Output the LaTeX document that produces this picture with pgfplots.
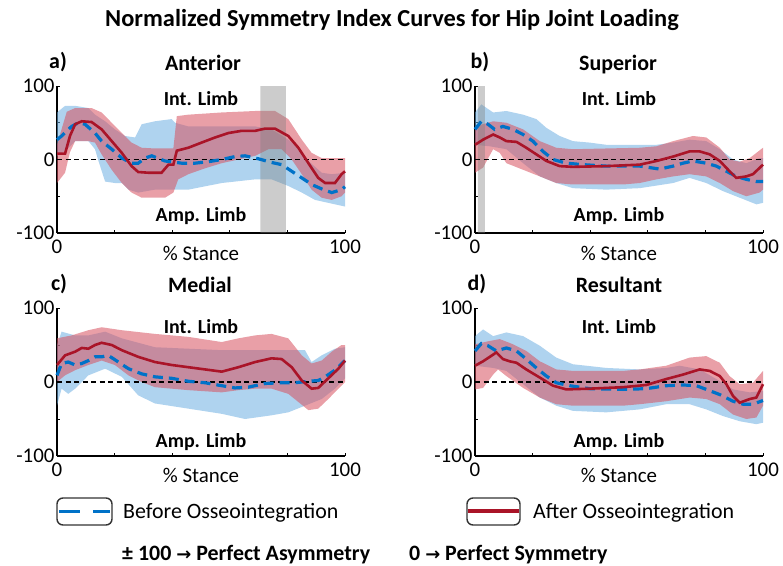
\documentclass[border=0pt]{standalone}
\usepackage{pgfplots}
\pgfplotsset{compat=1.18}
\usepgfplotslibrary{fillbetween}
\usepackage{fontspec}
\setmainfont{Carlito}
\newfontfamily\dejavu{DejaVu Sans}
\definecolor{bfill}{RGB}{110,175,225}
\definecolor{rfill}{RGB}{215,80,95}
\definecolor{rline}{RGB}{170,20,40}
\definecolor{bline}{RGB}{0,114,200}
\newcommand\fs[1]{\fontsize{#1}{#1}\selectfont}
\newcommand{\band}[4]{%
  \addplot[draw=none,name path=#1lo] coordinates {#3};
  \addplot[draw=none,name path=#1hi] coordinates {#4};
  \addplot[fill=#2, fill opacity=0.55, draw=none] fill between[of=#1lo and #1hi];
}
\pgfplotsset{panel/.style={
  scale only axis, width=288bp, anchor=south west, clip=false,
  xmin=0, xmax=100, ymin=-100, ymax=100,
  axis x line*=bottom, axis y line*=left,
  axis line style={black, line width=1.3bp},
  xtick={0,20,40,60,80,100}, xticklabels={0,,,,,100},
  ytick={-100,-50,0,50,100}, yticklabels={-100,,0,,100},
  tick align=inside, major tick length=3bp,
  tick style={black, line width=1bp},
  ticklabel style={font=\fs{21}},
  xticklabel style={yshift=-3bp},
  yticklabel style={xshift=1bp},
},
zeroline/.style={black, line width=1.3bp, dash pattern=on 5bp off 3.5bp},
bmean/.style={bline, line width=3.2bp, dash pattern=on 10bp off 6bp},
rmean/.style={rline, line width=2.6bp},
greybar/.style={fill=gray, fill opacity=0.4, draw=none},
}
\begin{document}
\begin{tikzpicture}
\path (0,0) rectangle (783bp,-566bp);
\node[font=\fs{24.5}\bfseries, anchor=base] at (392bp,-26bp) {Normalized Symmetry Index Curves for Hip Joint Loading};

% ---------------- a) Anterior
\begin{axis}[panel, height=147bp, at={(57bp,-233bp)}]
\band{aB}{bfill}{(0,5)(3,12)(6.3,25)(10.9,25)(13.2,14)(14.4,-2)(16.7,-30)(20.1,-32)(22.5,-32)(24.8,-41)(28.2,-45)(34,-41)(40,-41)(45.6,-41)(57.2,-32)(68.8,-27)(74.5,-27)(80.3,-36)(85,-45)(89.6,-55)(94.2,-59)(100,-64)}{(0,64)(2.8,73)(6.3,73)(10.9,70)(13.2,61)(16.7,52)(20.1,41)(23.6,32)(27.1,30)(29.4,48)(31.7,50)(34,52)(39.8,55)(41,50)(45.6,45)(57.2,45)(68.8,45)(74.5,41)(80.3,27)(83.8,16)(87.3,-2)(91.9,-18)(95.4,-20)(100,-18)}
\band{aR}{rfill}{(0,-32)(2.8,-18)(4.5,10)(6.3,25)(10.9,25)(13.2,23)(15.5,7)(19,-14)(22.5,-32)(25.9,-45)(29.4,-52)(37.5,-52)(40.4,-45)(42.1,-27)(45.6,-20)(51.4,-12)(57.2,-5)(63,0)(68.8,5)(73.4,14)(78,14)(81.5,0)(85,-20)(88.4,-41)(91.9,-52)(95.4,-55)(98.8,-50)(100,-45)}{(0,20)(1.5,40)(3.4,65)(6.3,70)(12,70)(15.5,64)(19,50)(22.5,36)(25.9,23)(29.4,16)(34,15)(40.4,15)(41.6,59)(45.6,61)(57.2,64)(68.8,66)(75.7,66)(80.3,55)(85,27)(88.4,9)(91.9,2)(100,2)}
\addplot[greybar] coordinates {(70.6,-100)(70.6,100)(79.5,100)(79.5,-100)(70.6,-100)};
\addplot[zeroline] coordinates {(0,0)(100,0)};
\addplot[bmean] coordinates {(0,27)(1.6,32)(3.4,39)(5.1,45)(7.4,50)(9.7,48)(13.2,36)(15.5,25)(19,14)(22.5,2)(25.9,-5)(28.2,-5)(30.6,2)(32.9,5)(37.5,-2)(43.3,-5)(47.9,-5)(52.5,-3)(57.2,0)(61.8,4)(65.3,5)(69.9,1)(74.5,-4)(78,-7)(81.5,-16)(85,-25)(88.4,-34)(91.9,-40)(95.4,-45)(98.8,-41)(100,-37)};
\addplot[rmean] coordinates {(0,8)(2.8,8)(4.5,32)(6.3,48)(8.6,52)(12,51)(15.5,41)(19,25)(22.5,9)(25.9,-9)(28.2,-17)(31.7,-18)(36.3,-18)(38.7,-7)(40.4,-7)(41.6,12)(45.6,16)(50.2,23)(54.9,30)(59.5,36)(64.1,39)(68.8,39)(72.2,42)(75.7,42)(80.3,32)(83.8,16)(87.3,-5)(90.7,-25)(93.1,-32)(96.5,-32)(98.8,-20)(100,-16)};
\node[font=\fs{20}\bfseries, anchor=base] at (axis cs:50,74) {Int. Limb};
\node[font=\fs{20}\bfseries, anchor=base] at (axis cs:50,-85) {Amp. Limb};
\node[font=\fs{21}, anchor=base, yshift=-27bp] at (axis cs:50,-100) {\% Stance};
\end{axis}

% ---------------- b) Superior
\begin{axis}[panel, height=147bp, at={(475bp,-233bp)}]
\band{bB}{bfill}{(0,20)(5.1,18)(10.9,14)(16.7,-5)(22.5,-23)(28.2,-32)(34,-39)(45.6,-41)(57.2,-39)(68.8,-32)(74.5,-25)(80.3,-32)(86.1,-43)(91.9,-52)(97.7,-61)(100,-59)}{(0,64)(2.2,75)(6.3,64)(10.9,66)(16.7,61)(21.3,55)(24.8,43)(29.4,32)(34,25)(39.8,23)(45.6,20)(63,20)(68.8,23)(74.5,27)(80.3,25)(85,14)(89.6,0)(94.2,-5)(98.8,2)(100,2)}
\band{bR}{rfill}{(0,-18)(2.8,-11)(6.3,14)(8.6,9)(10.9,-5)(16.7,-14)(22.5,-23)(28.2,-32)(34,-34)(51.4,-34)(57.2,-32)(63,-27)(68.8,-23)(74.5,-20)(80.3,-23)(85,-32)(89.6,-43)(94.2,-50)(98.8,-45)(100,-41)}{(0,45)(6.3,52)(10.9,50)(16.7,41)(22.5,25)(28.2,16)(34,14)(57.2,16)(63,18)(68.8,25)(75.7,32)(80.3,30)(85,16)(88.4,0)(91.9,-3)(95.4,2)(100,16)}
\addplot[greybar] coordinates {(1,-100)(1,100)(3.4,100)(3.4,-100)(1,-100)};
\addplot[zeroline] coordinates {(0,0)(100,0)};
\addplot[bmean] coordinates {(0,41)(2.2,52)(4.5,48)(6.8,41)(9.7,45)(13.2,41)(16.7,34)(20.1,25)(23.6,11)(27.1,0)(31.7,-5)(37.5,-7)(45.6,-9)(57.2,-9)(64.1,-13)(68.8,-9)(72.2,-5)(75.7,-2)(80.3,-5)(83.8,-9)(87.3,-16)(90.7,-23)(94.2,-27)(97.7,-30)(100,-30)};
\addplot[rmean] coordinates {(0,20)(2.8,27)(6.3,34)(8.6,30)(10.9,25)(14.4,24)(17.8,16)(21.3,7)(24.8,-2)(29.4,-9)(34,-10)(45.6,-9)(57.2,-7)(63,-2)(68.8,4)(74.5,11)(78,11)(81.5,7)(85,-2)(88.4,-16)(90.7,-25)(94.2,-23)(96.5,-20)(100,-7)};
\node[font=\fs{20}\bfseries, anchor=base] at (axis cs:50,74) {Int. Limb};
\node[font=\fs{20}\bfseries, anchor=base] at (axis cs:50,-85) {Amp. Limb};
\node[font=\fs{21}, anchor=base, yshift=-27bp] at (axis cs:50,-100) {\% Stance};
\end{axis}

% ---------------- c) Medial
\begin{axis}[panel, height=148bp, at={(57bp,-456bp)}]
\band{cB}{bfill}{(0,-32)(1.6,-9)(3.9,-16)(6.3,-9)(10.9,9)(16.7,18)(22.5,7)(28.2,-18)(34,-29)(45.6,-36)(57.2,-43)(65.3,-50)(74.5,-45)(80.3,-41)(86.1,-32)(91.9,-23)(96.5,-9)(100,5)}{(0,50)(1.6,68)(6.3,63)(10.9,63)(16.7,68)(22.5,59)(34,47)(45.6,45)(57.2,43)(80.3,43)(86.1,43)(88.4,27)(91.9,36)(96.5,45)(100,47)}
\band{cR}{rfill}{(0,0)(2.8,9)(6.3,16)(10.9,23)(15.5,29)(20.1,23)(24.8,9)(29.4,0)(34,-7)(45.6,-11)(57.2,-14)(63,-11)(68.8,-9)(74.5,-9)(80.3,-16)(83.8,-27)(87.3,-38)(90.7,-36)(94.2,-23)(97.7,-9)(100,0)}{(0,59)(5.1,63)(10.9,70)(15.5,74)(22.5,70)(34,65)(45.6,61)(57.2,54)(63,59)(68.8,63)(74.5,65)(80.3,59)(85,36)(88.4,25)(91.9,29)(95.4,41)(98.8,50)(100,50)}
\addplot[zeroline] coordinates {(0,0)(100,0)};
\addplot[bmean] coordinates {(0,9)(1.6,25)(3.9,27)(6.3,23)(8.6,25)(10.9,29)(13.2,34)(15.5,34)(17.8,36)(21.3,27)(24.8,18)(29.4,11)(34,7)(39.8,5)(45.6,1)(51.4,-1)(57.2,-5)(61.8,-8)(66.4,-7)(72.2,-2)(78,-1)(82.6,-1)(87.3,1)(90.7,2)(93.1,7)(96.5,16)(100,29)};
\addplot[rmean] coordinates {(0,23)(2.8,36)(6.3,41)(8.6,46)(10.9,45)(13.2,50)(15.5,53)(19,50)(22.5,43)(28.2,34)(34,27)(39.8,23)(45.6,20)(51.4,17)(57.2,14)(63,20)(68.8,27)(74.5,32)(78,31)(81.5,20)(85,2)(88.4,-9)(90.7,-8)(94.2,5)(97.7,18)(100,29)};
\node[font=\fs{20}\bfseries, anchor=base] at (axis cs:50,65) {Int. Limb};
\node[font=\fs{20}\bfseries, anchor=base] at (axis cs:50,-88) {Amp. Limb};
\node[font=\fs{21}, anchor=base, yshift=-26bp] at (axis cs:50,-100) {\% Stance};
\end{axis}

% ---------------- d) Resultant
\begin{axis}[panel, height=148bp, at={(475bp,-456bp)}]
\band{dB}{bfill}{(0,22)(6.3,19)(10.9,15)(16.7,-3)(22.5,-21)(28.2,-32)(34,-39)(45.6,-41)(57.2,-37)(66.4,-30)(74.5,-30)(80.3,-37)(86.1,-46)(91.9,-53)(97.7,-57)(100,-55)}{(0,62)(2.8,71)(6.3,62)(10.9,67)(16.7,62)(22.5,49)(28.2,33)(34,24)(45.6,19)(57.2,17)(66.4,19)(71.1,22)(78,17)(83.8,4)(89.6,-10)(95.4,-14)(100,-12)}
\band{dR}{rfill}{(0,-10)(2.8,-8)(6.3,10)(8,17)(10.9,8)(16.7,-8)(22.5,-21)(28.2,-30)(34,-32)(51.4,-32)(57.2,-30)(66.4,-26)(74.5,-21)(80.3,-23)(85,-30)(89.6,-44)(94.2,-50)(97.7,-48)(100,-32)}{(0,51)(4.5,55)(8.6,58)(13.2,51)(17.8,42)(22.5,28)(28.2,17)(34,15)(51.4,15)(57.2,17)(66.4,22)(74.5,33)(80.3,35)(85,26)(88.4,8)(91.9,-3)(96.5,-1)(100,15)}
\addplot[zeroline] coordinates {(0,0)(100,0)};
\addplot[bmean] coordinates {(0,42)(2.2,52)(4.5,49)(7.4,42)(10.9,46)(14.4,42)(17.8,31)(21.3,19)(24.8,8)(28.2,-1)(32.9,-5)(39.8,-9)(51.4,-10)(59.5,-9)(66.4,-5)(72.2,-4)(76.9,-5)(80.3,-10)(85,-17)(89.6,-26)(93.1,-30)(96.5,-30)(100,-25)};
\addplot[rmean] coordinates {(0,22)(2.8,28)(6.3,37)(7.4,40)(9.7,31)(12,28)(14.4,26)(17.8,17)(22.5,6)(27.1,-5)(31.7,-10)(39.8,-9)(51.4,-7)(59.5,-4)(66.4,4)(72.2,10)(78,17)(81.5,15)(85,8)(87.3,-3)(89.6,-19)(91.9,-28)(95.4,-23)(97.7,-21)(100,-3)};
\node[font=\fs{20}\bfseries, anchor=base] at (axis cs:50,65) {Int. Limb};
\node[font=\fs{20}\bfseries, anchor=base] at (axis cs:50,-89) {Amp. Limb};
\node[font=\fs{21}, anchor=base, yshift=-26bp] at (axis cs:50,-100) {\% Stance};
\end{axis}

% panel labels and titles
\node[font=\fs{22}\bfseries, anchor=base] at (58bp,-68bp) {a)};
\node[font=\fs{22}\bfseries, anchor=base] at (203bp,-70bp) {Anterior};
\node[font=\fs{22}\bfseries, anchor=base] at (480bp,-68bp) {b)};
\node[font=\fs{22}\bfseries, anchor=base] at (618bp,-70bp) {Superior};
\node[font=\fs{22}\bfseries, anchor=base] at (59bp,-290bp) {c)};
\node[font=\fs{22}\bfseries, anchor=base] at (200bp,-292bp) {Medial};
\node[font=\fs{22}\bfseries, anchor=base] at (477bp,-290bp) {d)};
\node[font=\fs{22}\bfseries, anchor=base] at (619bp,-292bp) {Resultant};

% legend
\draw[rounded corners=6bp, line width=1.4bp, draw=black!80] (57bp,-498bp) rectangle (112bp,-525bp);
\draw[bline, line width=3bp] (59bp,-511bp) -- (80bp,-511bp);
\draw[bline, line width=3bp] (93bp,-511bp) -- (110bp,-511bp);
\node[font=\fs{22}, anchor=base west, inner sep=0pt] at (123bp,-518bp) {Before Osseointegration};
\draw[rounded corners=6bp, line width=1.4bp, draw=black!80] (467bp,-498bp) rectangle (520bp,-525bp);
\draw[rline, line width=3.6bp] (468bp,-511bp) -- (519bp,-511bp);
\node[font=\fs{22}, anchor=base west, inner sep=0pt] at (533bp,-518bp) {After Osseointegration};

\node[font=\fs{22}\bfseries, anchor=base west, inner sep=0pt] at (122bp,-560bp) {± 100 {\dejavu\fs{18}\bfseries →} Perfect Asymmetry};
\node[font=\fs{22}\bfseries, anchor=base west, inner sep=0pt] at (409bp,-560bp) {0 {\dejavu\fs{18}\bfseries →} Perfect Symmetry};
\end{tikzpicture}
\end{document}
